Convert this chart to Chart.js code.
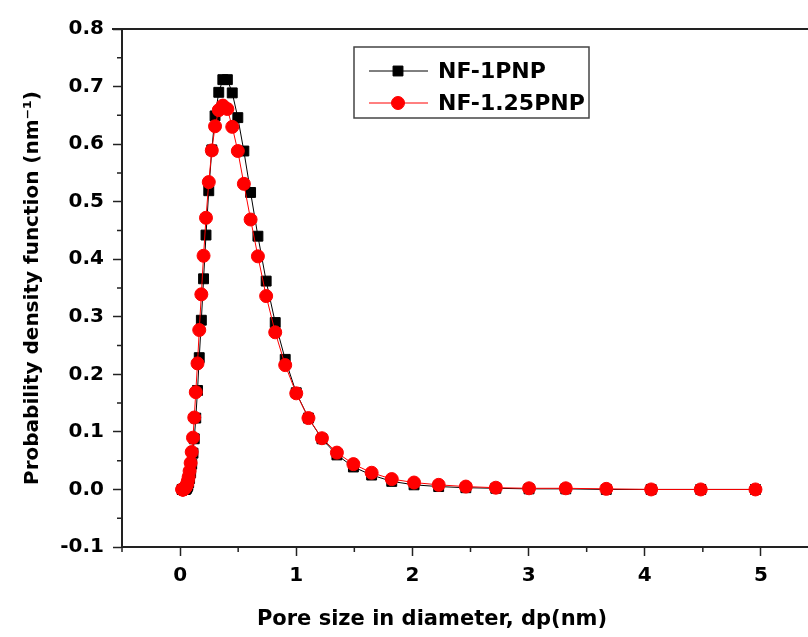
<!DOCTYPE html>
<html>
<head>
<meta charset="utf-8">
<script src="https://cdn.jsdelivr.net/npm/chart.js@4/dist/chart.umd.min.js"></script>
<style>
  html, body { margin: 0; padding: 0; background: #fff; overflow: hidden; }
  #wrap { width: 830px; height: 637px; }
</style>
</head>
<body>
<div id="wrap"><canvas id="poreChart" width="830" height="637"></canvas></div>
<script>
// pore size grid (nm), shared by both samples
const poreSize = [
  0.018, 0.020, 0.022, 0.025, 0.027, 0.030, 0.033, 0.037, 0.041, 0.045,
  0.050, 0.055, 0.061, 0.067, 0.074, 0.082, 0.091, 0.100, 0.111, 0.122,
  0.135, 0.150, 0.165, 0.183, 0.202, 0.223, 0.247, 0.273, 0.301, 0.333,
  0.368, 0.407, 0.449, 0.497, 0.549, 0.607, 0.670, 0.741, 0.819, 0.905,
  1.000, 1.105, 1.221, 1.350, 1.492, 1.649, 1.822, 2.014, 2.226, 2.460,
  2.718, 3.004, 3.320, 3.669, 4.055, 4.482, 4.953
];

const nf1PNP = [
  0.000, 0.000, 0.000, 0.000, 0.000, 0.000, 0.000, 0.000, 0.000, 0.000,
  0.001, 0.002, 0.004, 0.007, 0.012, 0.019, 0.029, 0.044, 0.063, 0.088,
  0.124, 0.172, 0.229, 0.294, 0.366, 0.442, 0.519, 0.590, 0.649, 0.690,
  0.712, 0.712, 0.689, 0.646, 0.588, 0.516, 0.440, 0.362, 0.290, 0.226,
  0.168, 0.124, 0.088, 0.060, 0.039, 0.025, 0.014, 0.008, 0.005, 0.003,
  0.002, 0.001, 0.001, 0.000, 0.000, 0.000, 0.000
];

const nf125PNP = [
  0.000, 0.000, 0.000, 0.000, 0.000, 0.000, 0.001, 0.001, 0.002, 0.003,
  0.005, 0.007, 0.010, 0.015, 0.022, 0.032, 0.046, 0.065, 0.090, 0.125,
  0.169, 0.219, 0.277, 0.339, 0.406, 0.472, 0.534, 0.589, 0.631, 0.659,
  0.667, 0.661, 0.630, 0.588, 0.531, 0.469, 0.405, 0.336, 0.273, 0.216,
  0.167, 0.124, 0.089, 0.064, 0.044, 0.029, 0.018, 0.012, 0.008, 0.005,
  0.003, 0.002, 0.002, 0.001, 0.000, 0.000, 0.000
];

const xTicks = [0, 1, 2, 3, 4, 5];
const yTicks = [-0.1, 0.0, 0.1, 0.2, 0.3, 0.4, 0.5, 0.6, 0.7, 0.8];
const xMinorTicks = [-0.5, 0.5, 1.5, 2.5, 3.5, 4.5, 5.5];
const yMinorTicks = [-0.05, 0.05, 0.15, 0.25, 0.35, 0.45, 0.55, 0.65, 0.75];

const FONT = '"DejaVu Sans", "Liberation Sans", Arial, sans-serif';
const AXIS_COLOR = '#222';

function toPoints(values) {
  return poreSize.map((x, i) => ({ x: x, y: values[i] }));
}

// frame top line + minor ticks + x title
const framePlugin = {
  id: 'frame',
  afterDraw(chart) {
    const { ctx, chartArea: a, scales } = chart;
    ctx.save();
    ctx.strokeStyle = AXIS_COLOR;
    ctx.lineWidth = 2;
    ctx.beginPath();
    ctx.moveTo(a.left - 10, a.top);
    ctx.lineTo(a.right, a.top);
    ctx.lineTo(a.right, a.bottom);
    ctx.stroke();

    ctx.lineWidth = 1.5;
    ctx.beginPath();
    xMinorTicks.forEach(v => {
      const px = scales.x.getPixelForValue(v);
      ctx.moveTo(px, a.bottom);
      ctx.lineTo(px, a.bottom + 5);
    });
    yMinorTicks.forEach(v => {
      const py = scales.y.getPixelForValue(v);
      ctx.moveTo(a.left, py);
      ctx.lineTo(a.left - 5, py);
    });
    ctx.stroke();

    ctx.fillStyle = '#000';
    ctx.font = 'bold 21px ' + FONT;
    ctx.textAlign = 'center';
    ctx.textBaseline = 'middle';
    ctx.fillText('Pore size in diameter, dp(nm)', 432, 620);
    ctx.restore();
  }
};

// legend with line + marker like the original
const legendPlugin = {
  id: 'boxLegend',
  afterDraw(chart) {
    const ctx = chart.ctx;
    const box = { left: 354, top: 47, width: 235, height: 71 };
    ctx.save();
    ctx.fillStyle = '#fff';
    ctx.fillRect(box.left, box.top, box.width, box.height);
    ctx.strokeStyle = '#444';
    ctx.lineWidth = 1.5;
    ctx.strokeRect(box.left, box.top, box.width, box.height);

    chart.data.datasets.forEach((ds, i) => {
      const y = box.top + 24 + i * 32;
      ctx.strokeStyle = ds.borderColor;
      ctx.lineWidth = 1;
      ctx.beginPath();
      ctx.moveTo(box.left + 15, y);
      ctx.lineTo(box.left + 74, y);
      ctx.stroke();
      ctx.fillStyle = ds.pointBackgroundColor;
      ctx.strokeStyle = ds.pointBorderColor;
      Chart.helpers.drawPoint(ctx, {
        pointStyle: ds.pointStyle,
        radius: ds.pointRadius,
        borderWidth: 1,
        rotation: 0
      }, box.left + 44, y);
      ctx.fillStyle = '#000';
      ctx.font = 'bold 22px ' + FONT;
      ctx.textAlign = 'left';
      ctx.textBaseline = 'middle';
      ctx.fillText(ds.label, box.left + 84, y + 1);
    });
    ctx.restore();
  }
};

const ctx = document.getElementById('poreChart').getContext('2d');
new Chart(ctx, {
  type: 'line',
  data: {
    datasets: [
      {
        label: 'NF-1PNP',
        data: toPoints(nf1PNP),
        borderColor: '#000',
        borderWidth: 1,
        pointStyle: 'rect',
        pointRadius: 7,
        pointBackgroundColor: '#000',
        pointBorderColor: '#000',
        tension: 0,
        order: 2
      },
      {
        label: 'NF-1.25PNP',
        data: toPoints(nf125PNP),
        borderColor: '#ff0000',
        borderWidth: 1,
        pointStyle: 'circle',
        pointRadius: 6.5,
        pointBackgroundColor: '#ff0000',
        pointBorderColor: '#ff0000',
        tension: 0,
        order: 1
      }
    ]
  },
  options: {
    responsive: false,
    animation: false,
    layout: { padding: { top: 29, right: 11, left: 0, bottom: 0 } },
    plugins: {
      legend: { display: false },
      tooltip: { enabled: false }
    },
    scales: {
      x: {
        type: 'linear',
        min: -0.5,
        max: 5.5,
        afterBuildTicks: s => { s.ticks = xTicks.map(v => ({ value: v })); },
        afterFit: s => { s.height = 90; },
        border: { display: true, color: AXIS_COLOR, width: 2 },
        grid: { drawOnChartArea: false, drawTicks: true, tickLength: 9, tickColor: AXIS_COLOR, tickWidth: 1.5 },
        ticks: {
          color: '#000',
          padding: 8,
          maxRotation: 0,
          font: { family: FONT, size: 20, weight: 'bold' },
          callback: v => String(v)
        }
      },
      y: {
        min: -0.1,
        max: 0.8,
        afterBuildTicks: s => { s.ticks = yTicks.map(v => ({ value: v })); },
        afterFit: s => { s.width = 122; },
        border: { display: true, color: AXIS_COLOR, width: 2 },
        grid: { drawOnChartArea: false, drawTicks: true, tickLength: 9, tickColor: AXIS_COLOR, tickWidth: 1.5 },
        ticks: {
          color: '#000',
          padding: 9,
          font: { family: FONT, size: 20, weight: 'bold' },
          callback: v => v.toFixed(1)
        },
        title: {
          display: true,
          text: 'Probability density function (nm\u207B\u00B9)',
          color: '#000',
          padding: { top: 21, bottom: 0 },
          font: { family: FONT, size: 20, weight: 'bold' }
        }
      }
    }
  },
  plugins: [framePlugin, legendPlugin]
});
</script>
</body>
</html>
